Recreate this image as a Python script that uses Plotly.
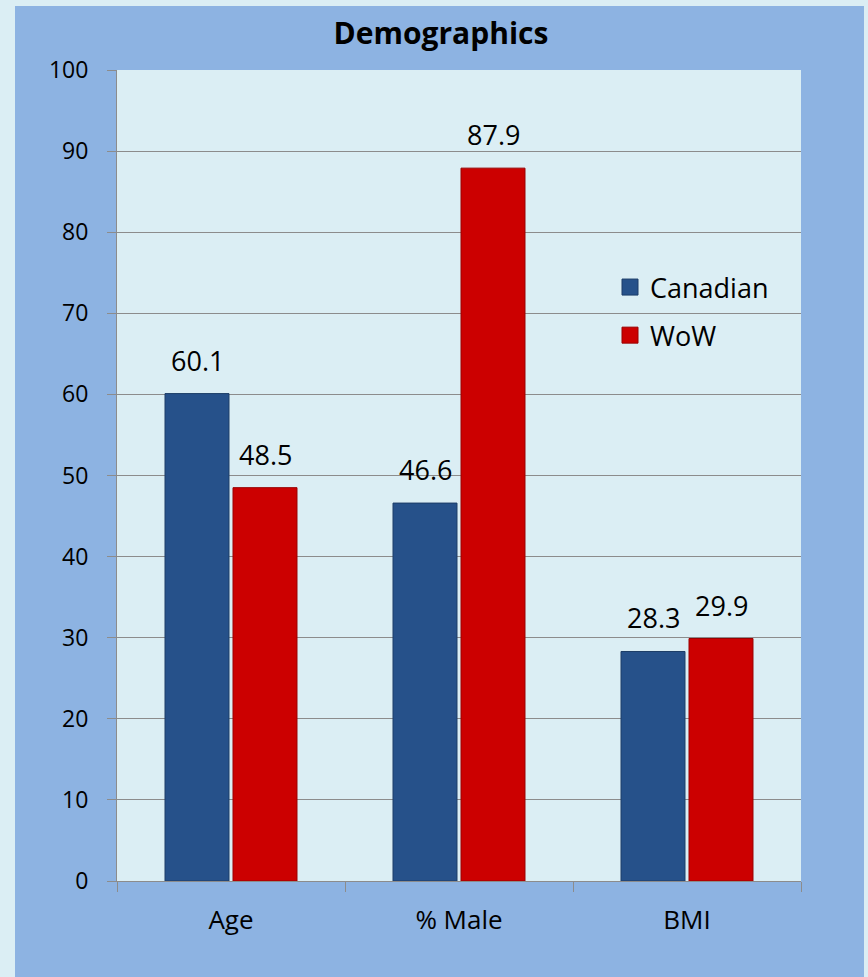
import plotly.graph_objects as go

categories = ["Age", "% Male", "BMI"]
canadian = [60.1, 46.6, 28.3]
wow = [48.5, 87.9, 29.9]
series_names = ["Canadian", "WoW"]
y_ticks = [0, 10, 20, 30, 40, 50, 60, 70, 80, 90, 100]

W, H = 868, 977
L, R, T, B = 117, 67, 70, 96
PW, PH = W - L - R, H - T - B

BLUE_BG = "#8db3e2"
LIGHT = "#dbeef4"
GRID = "#8c8c8c"
FONT = "Open Sans"
COLORS = ["#26518a", "#cc0000"]
EDGES = ["#1c3d68", "#9a0000"]

def px_x(p):
    return (p - L) / PW

def px_y(p):
    return (H - B - p) / PH

fig = go.Figure()
for name, vals, col, edge in zip(series_names, (canadian, wow), COLORS, EDGES):
    fig.add_trace(go.Bar(x=categories, y=vals, name=name, showlegend=False,
                         marker=dict(color=col, line=dict(color=edge, width=1))))
# legend entries (square swatches)
for i, (name, col, edge) in enumerate(zip(series_names, COLORS, EDGES)):
    fig.add_trace(go.Scatter(x=[None], y=[None], mode="markers", name=name,
                             legendgroup=f"g{i}",
                             marker=dict(symbol="square", size=16, color=col,
                                         line=dict(color=edge, width=1))))

# data labels
for vals, shift in ((canadian, -34), (wow, 34)):
    for c, v in zip(categories, vals):
        fig.add_annotation(x=c, y=v, text=f"{v:.1f}", showarrow=False,
                           xshift=shift, yshift=13, yanchor="bottom",
                           font=dict(family=FONT, size=27, color="#000000"))

# light outer border strips
for x0, x1, y0, y1 in ((0, 15, 0, H), (0, W, 0, 6), (864, W, 0, H)):
    fig.add_shape(type="rect", xref="paper", yref="paper",
                  x0=px_x(x0), x1=px_x(x1), y0=px_y(y1), y1=px_y(y0),
                  fillcolor=LIGHT, line=dict(width=0), layer="below")

fig.update_layout(
    width=W, height=H,
    margin=dict(l=L, r=R, t=T, b=B),
    paper_bgcolor=BLUE_BG, plot_bgcolor=LIGHT,
    barmode="group", bargap=0.4035, bargroupgap=0.059,
    font=dict(family=FONT, size=22, color="#000000"),
    title=dict(text="<b>Demographics</b>", x=441 / W, xanchor="center",
               y=1 - 33.5 / H, yanchor="middle",
               font=dict(family=FONT, size=30, color="#000000")),
    legend=dict(x=px_x(610), y=px_y(263), xanchor="left", yanchor="top",
                bgcolor="rgba(0,0,0,0)", tracegroupgap=10, itemwidth=30,
                font=dict(family=FONT, size=27)),
    showlegend=True,
)
fig.update_yaxes(range=[0, 100], tickvals=y_ticks, showgrid=True, gridcolor=GRID,
                 gridwidth=1, showline=True, linecolor=GRID, linewidth=1,
                 ticks="outside", ticklen=9, tickcolor=GRID, ticklabelstandoff=14,
                 zeroline=False, tickfont=dict(family=FONT, size=23))
fig.update_xaxes(type="category", showline=True, linecolor=GRID, linewidth=1,
                 ticks="outside", tickson="boundaries", ticklen=10, tickcolor=GRID,
                 ticklabelstandoff=16, showgrid=False,
                 tickfont=dict(family=FONT, size=26))

fig.write_html("out.html")
